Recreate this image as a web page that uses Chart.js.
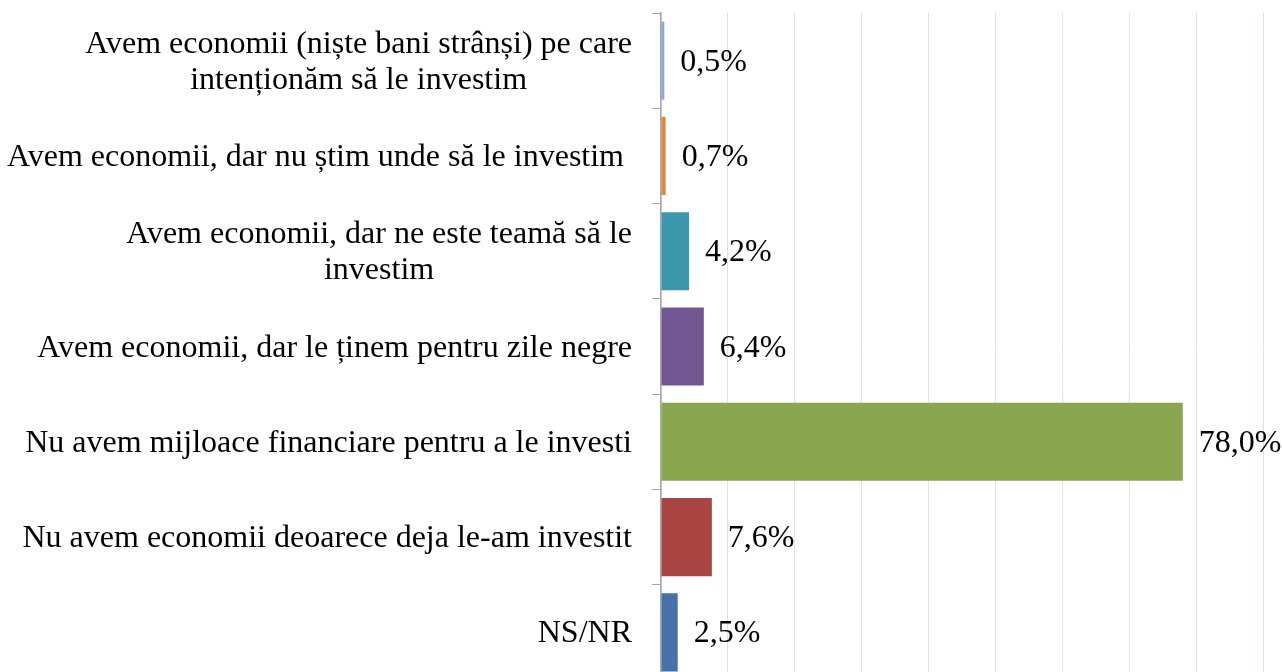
<!DOCTYPE html>
<html>
<head>
<meta charset="utf-8">
<script src="https://cdn.jsdelivr.net/npm/chart.js@4/dist/chart.umd.min.js"></script>
<style>
  html, body { margin: 0; padding: 0; background: #fff; overflow: hidden; }
  #wrap { width: 1330px; height: 680px; }
</style>
</head>
<body>
<div id="wrap"><canvas id="chart"></canvas></div>
<script>
// Data
const categories = [
  ['Avem economii (niște bani strânși) pe care', 'intenționăm să le investim'],
  ['Avem economii, dar nu știm unde să le investim '],
  ['Avem economii, dar ne este teamă să le', 'investim'],
  ['Avem economii, dar le ținem pentru zile negre'],
  ['Nu avem mijloace financiare pentru a le investi'],
  ['Nu avem economii deoarece deja le-am investit'],
  ['NS/NR']
];
const values = [0.5, 0.7, 4.2, 6.4, 78.0, 7.6, 2.5];
const barColors = ['#8EA7D8', '#E0893E', '#3B98AC', '#725693', '#8AA64E', '#A94643', '#4672A9'];

const FONT = '32px "Liberation Serif", "Times New Roman", serif';
const LINE_H = 36;
const BASE_OFF = 10; // baseline below band centre

// category labels: block right-aligned, lines centred inside the block
const categoryLabels = {
  id: 'categoryLabels',
  afterDraw(chart) {
    const ctx = chart.ctx;
    const y = chart.scales.y;
    ctx.save();
    ctx.font = FONT;
    ctx.fillStyle = '#000';
    ctx.textBaseline = 'alphabetic';
    ctx.textAlign = 'center';
    categories.forEach((lines, i) => {
      const cy = y.getPixelForValue(i) + BASE_OFF;
      const w = Math.max(...lines.map(l => ctx.measureText(l).width));
      const cx = y.right - 29 - w / 2;
      lines.forEach((line, j) => {
        ctx.fillText(line, cx, cy + (j - (lines.length - 1) / 2) * LINE_H);
      });
    });
    ctx.restore();
  }
};

// value labels at the end of each bar
const valueLabels = {
  id: 'valueLabels',
  afterDatasetsDraw(chart) {
    const ctx = chart.ctx;
    const meta = chart.getDatasetMeta(0);
    ctx.save();
    ctx.font = FONT;
    ctx.fillStyle = '#000';
    ctx.textBaseline = 'alphabetic';
    ctx.textAlign = 'left';
    meta.data.forEach((bar, i) => {
      ctx.fillText(values[i].toFixed(1).replace('.', ',') + '%', bar.x + 16, bar.y + BASE_OFF);
    });
    ctx.restore();
  }
};

new Chart(document.getElementById('chart'), {
  type: 'bar',
  data: {
    labels: categories.map(l => l.join(' ')),
    datasets: [{
      data: values,
      backgroundColor: barColors,
      borderWidth: 0,
      barPercentage: 0.82,
      categoryPercentage: 1
    }]
  },
  options: {
    indexAxis: 'y',
    responsive: true,
    maintainAspectRatio: false,
    animation: false,
    layout: { padding: { top: 13, left: 0, right: 0, bottom: 0 } },
    plugins: {
      legend: { display: false },
      tooltip: { enabled: false }
    },
    scales: {
      x: {
        min: 0,
        max: 100,
        ticks: { display: false, stepSize: 10 },
        grid: { color: '#dbe3f0', lineWidth: 1, drawTicks: false },
        border: { display: false }
      },
      y: {
        ticks: { display: false },
        grid: {
          offset: true,
          drawOnChartArea: false,
          drawTicks: true,
          tickLength: 9,
          color: '#a6a6a6'
        },
        border: { display: true, color: '#a6a6a6', width: 1.5 },
        afterFit(scale) { scale.width = 661; }
      }
    }
  },
  plugins: [categoryLabels, valueLabels]
});
</script>
</body>
</html>
